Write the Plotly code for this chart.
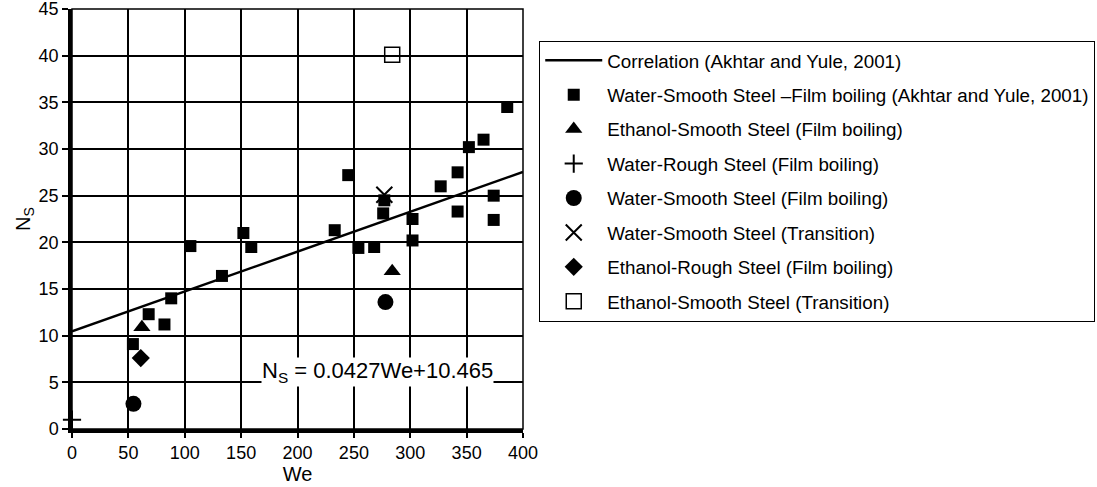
import plotly.graph_objects as go

# ---- data ----
corr_slope = 0.0427
corr_intercept = 10.465
corr_we = [0, 400]

ws_ay_we = [54, 68, 82, 88, 105, 133, 152, 159, 233, 245, 254, 268, 276, 277,
            302, 302, 327, 342, 342, 352, 365, 374, 374, 386]
ws_ay_ns = [9.1, 12.3, 11.2, 14.0, 19.6, 16.4, 21.0, 19.5, 21.3, 27.2, 19.4, 19.5,
            23.1, 24.5, 22.5, 20.2, 26.0, 27.5, 23.3, 30.2, 31.0, 25.0, 22.4, 34.5]

es_film_we = [62, 284]
es_film_ns = [10.9, 16.9]

wr_film_we = [0]
wr_film_ns = [1.0]

ws_film_we = [54.5, 278]
ws_film_ns = [2.7, 13.6]

ws_trans_we = [277]
ws_trans_ns = [25.1]

er_film_we = [61]
er_film_ns = [7.6]

es_trans_we = [284]
es_trans_ns = [40.1]

x_ticks = [0, 50, 100, 150, 200, 250, 300, 350, 400]
y_ticks = [0, 5, 10, 15, 20, 25, 30, 35, 40, 45]

names = [
    "Correlation (Akhtar and Yule, 2001)",
    "Water-Smooth Steel \u2013Film boiling (Akhtar and Yule, 2001)",
    "Ethanol-Smooth Steel (Film boiling)",
    "Water-Rough Steel (Film boiling)",
    "Water-Smooth Steel (Film boiling)",
    "Water-Smooth Steel (Transition)",
    "Ethanol-Rough Steel (Film boiling)",
    "Ethanol-Smooth Steel (Transition)",
]

FONT = "Arial, Liberation Sans, sans-serif"

fig = go.Figure()

corr_ns = [corr_slope * w + corr_intercept for w in corr_we]
fig.add_trace(go.Scatter(x=corr_we, y=corr_ns, mode="lines", name=names[0],
                         line=dict(color="black", width=2.5), legendgroup="g0"))
fig.add_trace(go.Scatter(x=ws_ay_we, y=ws_ay_ns, mode="markers", name=names[1],
                         marker=dict(symbol="square", size=12, color="black"), legendgroup="g1"))
fig.add_trace(go.Scatter(x=es_film_we, y=es_film_ns, mode="markers", name=names[2],
                         marker=dict(symbol="triangle-up", size=15, color="black"), legendgroup="g2"))
fig.add_trace(go.Scatter(x=wr_film_we, y=wr_film_ns, mode="markers", name=names[3],
                         marker=dict(symbol="cross-thin", size=13, color="black",
                                     line=dict(color="black", width=2)),
                         cliponaxis=False, legendgroup="g3"))
fig.add_trace(go.Scatter(x=ws_film_we, y=ws_film_ns, mode="markers", name=names[4],
                         marker=dict(symbol="circle", size=16, color="black"), legendgroup="g4"))
fig.add_trace(go.Scatter(x=ws_trans_we, y=ws_trans_ns, mode="markers", name=names[5],
                         marker=dict(symbol="x-thin", size=16, color="black",
                                     line=dict(color="black", width=2)), legendgroup="g5"))
fig.add_trace(go.Scatter(x=er_film_we, y=er_film_ns, mode="markers", name=names[6],
                         marker=dict(symbol="diamond", size=14, color="black"), legendgroup="g6"))
fig.add_trace(go.Scatter(x=es_trans_we, y=es_trans_ns, mode="markers", name=names[7],
                         marker=dict(symbol="square-open", size=15, color="black",
                                     line=dict(color="black", width=1.5)), legendgroup="g7"))

fig.add_annotation(x=271, y=6.1, xref="x", yref="y",
                   text="N<sub>S</sub> = 0.0427We+10.465", showarrow=False,
                   font=dict(family=FONT, size=22, color="black"),
                   bgcolor="white", borderpad=0)

fig.add_shape(type="rect", xref="paper", yref="paper", x0=0, y0=0, x1=1, y1=1,
              line=dict(color="black", width=1.5), layer="above")

fig.update_layout(
    width=1097, height=487,
    margin=dict(l=72, r=574, t=9, b=58, autoexpand=False),
    paper_bgcolor="white", plot_bgcolor="white",
    font=dict(family=FONT, size=18, color="black"),
    showlegend=True,
    legend=dict(x=1.036, y=0.925, xanchor="left", yanchor="top",
                bordercolor="black", borderwidth=1, bgcolor="white",
                font=dict(family=FONT, size=18.8, color="black"),
                tracegroupgap=7, itemwidth=57, itemsizing="trace"),
    xaxis=dict(range=[0, 400], tickvals=x_ticks, showgrid=True, gridcolor="black",
               gridwidth=1.5, zeroline=False, showline=True, linecolor="black",
               linewidth=3.5, ticks="outside", ticklen=5, tickwidth=2, tickcolor="black",
               title=dict(text="We", font=dict(size=20), standoff=2),
               tickfont=dict(size=18), ticklabeloverflow="allow"),
    yaxis=dict(range=[0, 45], tickvals=y_ticks, showgrid=True, gridcolor="black",
               gridwidth=1.5, zeroline=False, showline=True, linecolor="black",
               linewidth=3.5, ticks="outside", ticklen=6, tickwidth=2, tickcolor="black",
               title=dict(text="N<sub>S</sub>", font=dict(size=20), standoff=4),
               tickfont=dict(size=18), ticklabeloverflow="allow"),
)

fig.write_html("out.html")
